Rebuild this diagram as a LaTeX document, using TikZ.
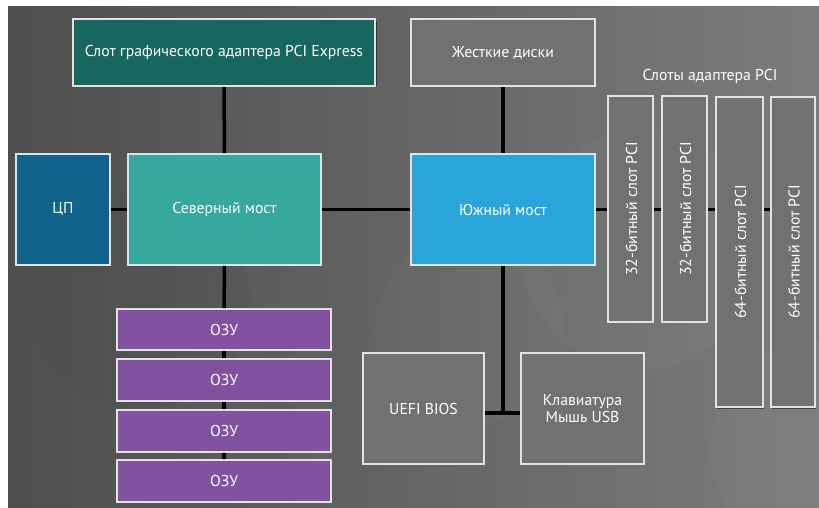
\documentclass[tikz,border=0pt]{standalone}
\usepackage{fontspec}
\setmainfont{PT Sans}
\usetikzlibrary{shadows}
\definecolor{bgl}{HTML}{4E4E4E}
\definecolor{bgr}{HTML}{7C7C7C}
\definecolor{boxline}{HTML}{E2E2E2}
\definecolor{cpemc}{HTML}{17665F}
\definecolor{cpuc}{HTML}{10648C}
\definecolor{nbc}{HTML}{36A89D}
\definecolor{sbc}{HTML}{2AA5DC}
\definecolor{grayc}{HTML}{717171}
\definecolor{ramc}{HTML}{8252A0}
\begin{document}
\begin{tikzpicture}[x=1bp,y=-1bp,
  box/.style={draw=boxline, line width=2bp, text=white, align=center,
    font=\fontsize{15.8}{17.5}\selectfont, inner sep=0pt,
    drop shadow={shadow xshift=1.2bp, shadow yshift=-1.5bp, opacity=0.45, fill=black}},
  lbl/.style={text=white, font=\fontsize{15.8}{17.5}\selectfont, inner sep=0pt},
  link/.style={line width=3.5bp, black}]
\useasboundingbox (0,0) rectangle (819,508);
\fill[white] (0,0) rectangle (819,508);
\shade[left color=bgl, right color=bgr] (8,7) rectangle (819,508);
% faint background decoration
\begin{scope}
\clip (8,7) rectangle (819,508);
\fill[white, opacity=0.025] (470,330) circle (95);
\fill[white, opacity=0.025] (640,250) circle (120);
\fill[white, opacity=0.025] (820,450) circle (110);
\fill[black, opacity=0.025] (140,300) circle (110);
\end{scope}

% boxes
\node[box, fill=cpemc, minimum width=304, minimum height=67] (pcie) at (224,52.5) {Слот графического адаптера PCI Express};
\node[box, fill=grayc, minimum width=184, minimum height=67] (hdd) at (503,52.5) {Жесткие диски};
\node[box, fill=cpuc, minimum width=94, minimum height=111] (cpu) at (63,209.5) {ЦП};
\node[box, fill=nbc, minimum width=193, minimum height=111] (nb) at (224.5,209.5) {Северный мост};
\node[box, fill=sbc, minimum width=184, minimum height=111] (sb) at (503,209.5) {Южный мост};
\node[box, fill=ramc, minimum width=214, minimum height=41] (ram1) at (224,329.5) {ОЗУ};
\node[box, fill=ramc, minimum width=214, minimum height=42] (ram2) at (224,380) {ОЗУ};
\node[box, fill=ramc, minimum width=214, minimum height=42] (ram3) at (224,431) {ОЗУ};
\node[box, fill=ramc, minimum width=214, minimum height=42] (ram4) at (224,481) {ОЗУ};
\node[box, fill=grayc, minimum width=121, minimum height=111] (uefi) at (423.5,408.5) {UEFI BIOS};
\node[box, fill=grayc, minimum width=123, minimum height=111] (kbd) at (582.5,408.5) {Клавиатура\\Мышь USB};
\node[box, fill=grayc, minimum width=45, minimum height=226] (s1) at (630.5,209) {};
\node[box, fill=grayc, minimum width=45, minimum height=226] (s2) at (684.5,209) {};
\node[box, fill=grayc, minimum width=47, minimum height=312] (s3) at (739.5,252) {};
\node[box, fill=grayc, minimum width=44, minimum height=312] (s4) at (793,252) {};
\node[lbl, rotate=90] (t1) at ([xshift=1bp]s1.center) {32-битный слот PCI};
\node[lbl, rotate=90] (t2) at ([xshift=1bp]s2.center) {32-битный слот PCI};
\node[lbl, rotate=90] (t3) at ([xshift=1bp]s3.center) {64-битный слот PCI};
\node[lbl, rotate=90] (t4) at ([xshift=1bp]s4.center) {64-битный слот PCI};
\node[lbl] (slotlbl) at (710,76) {Слоты адаптера PCI};

% connectors
\draw[link] (pcie.south) -- (nb.north);
\draw[link] (hdd.south) -- (sb.north);
\draw[link] (cpu.east) -- (nb.west);
\draw[link] (nb.east) -- (sb.west);
\draw[link] (sb.east) -- (s1.west |- sb.east);
\draw[link] (s1.east |- sb.east) -- (s2.west |- sb.east);
\draw[link] (s2.east |- sb.east) -- (s3.west |- sb.east);
\draw[link] (s3.east |- sb.east) -- (s4.west |- sb.east);
\draw[link] (nb.south) -- (ram1.north);
\draw[link] (ram1.south) -- (ram2.north);
\draw[link] (ram2.south) -- (ram3.north);
\draw[link] (ram3.south) -- (ram4.north);
\coordinate (j) at (503,413);
\draw[link] (sb.south) -- (j);
\draw[link] (uefi.east |- j) -- (kbd.west |- j);
\end{tikzpicture}
\end{document}
